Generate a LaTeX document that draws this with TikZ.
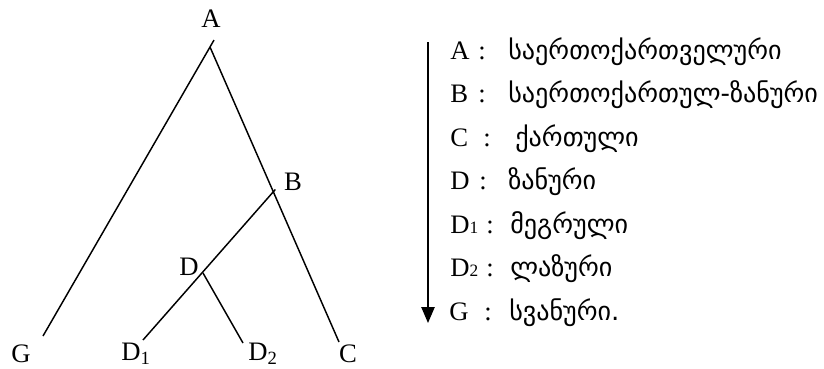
\documentclass[tikz,border=0pt]{standalone}
\usepackage{fontspec}
\setmainfont{Liberation Serif}
\newfontfamily\geo[Script=Georgian]{DejaVu Sans}
\usetikzlibrary{arrows.meta}
\newcommand\lowsub[1]{\raisebox{-0.35ex}{\fontsize{14}{16}\selectfont #1}}
\begin{document}
\begin{tikzpicture}[x=0.75pt,y=-0.75pt,
  lbl/.style={inner sep=0pt,font=\fontsize{20}{24}\selectfont},
  branch/.style={line width=1.1pt},
  item/.style={inner sep=0pt,anchor=base west,font=\fontsize{20}{24}\selectfont},
  colon/.style={inner sep=0pt,anchor=base,font=\fontsize{20}{24}\selectfont},
  gtext/.style={inner sep=0pt,anchor=base west,font=\geo\fontsize{19.6}{24}\selectfont}]
\useasboundingbox (0,0) rectangle (824,368);
% tree junctions and leaves
\coordinate (jA) at (210,47);
\coordinate (jB) at (274,191);
\coordinate (jD) at (203,273);
\coordinate (eG) at (43,336);
\coordinate (eC) at (339,342);
\coordinate (eD1) at (143,340);
\coordinate (eD2) at (243,343);
\draw[branch,shorten >=-6pt] (eG) -- (jA);
\draw[branch] (jA) -- (eC);
\draw[branch,shorten >=-1.5pt] (eD1) -- (jB);
\draw[branch] (jD) -- (eD2);
% tree labels
\node[lbl] (tA) at (211,19) {A};
\node[lbl] (tB) at (293,182) {B};
\node[lbl] (tD) at (189,267) {D};
\node[lbl] (tG) at (21,354) {G};
\node[lbl,anchor=west] (tD1) at (121,354) {D\lowsub{1}};
\node[lbl,anchor=west] (tD2) at (248,354) {D\lowsub{2}};
\node[lbl] (tC) at (348,354) {C};
% arrow
\coordinate (ar0) at (428,42);
\coordinate (ar1) at (428,323);
\draw[line width=1.1pt,-{Triangle[width=10pt,length=12pt]}] (ar0) -- (ar1);
% list
\node[item] (k1) at (450,59) {A};
\node[item] (k2) at (450,102.5) {B};
\node[item] (k3) at (450,146) {C};
\node[item] (k4) at (450,189.5) {D};
\node[item] (k5) at (450,233) {D{\fontsize{13}{14}\selectfont 1}};
\node[item] (k6) at (450,276.5) {D{\fontsize{13}{14}\selectfont 2}};
\node[item] (k7) at (449,320) {G};
\node[colon] (c1) at (482,59) {:};
\node[colon] (c2) at (482,102.5) {:};
\node[colon] (c3) at (487,146) {:};
\node[colon] (c4) at (483,189.5) {:};
\node[colon] (c5) at (490,233) {:};
\node[colon] (c6) at (490,276.5) {:};
\node[colon] (c7) at (488,320) {:};
\node[gtext] (g1) at (508,59) {საერთოქართველური};
\node[gtext] (g2) at (508,102.5) {საერთოქართულ-ზანური};
\node[gtext] (g3) at (515,146) {ქართული};
\node[gtext] (g4) at (508,189.5) {ზანური};
\node[gtext] (g5) at (510,233) {მეგრული};
\node[gtext] (g6) at (510,276.5) {ლაზური};
\node[gtext] (g7) at (509,320) {სვანური.};
\end{tikzpicture}
\end{document}
